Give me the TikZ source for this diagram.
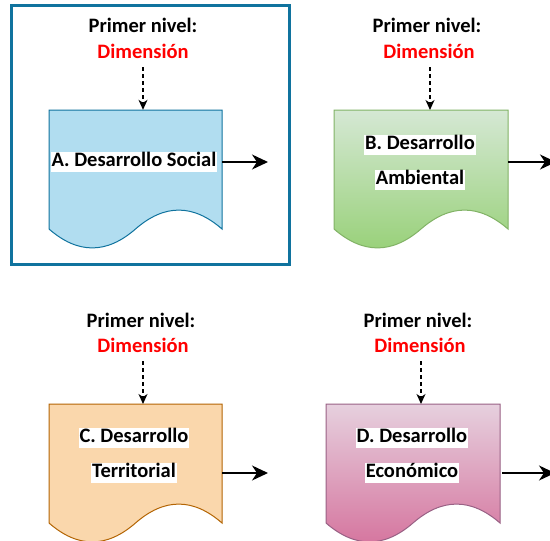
\documentclass[tikz,border=0pt]{standalone}
\usepackage{fontspec}
\setmainfont{Carlito}
\usetikzlibrary{arrows.meta,calc}
\definecolor{frameblue}{HTML}{10739E}
\definecolor{blueFill}{HTML}{B1DDF0}
\definecolor{greenStroke}{HTML}{82B366}
\definecolor{greenTop}{HTML}{D5E8D4}
\definecolor{greenBot}{HTML}{97D077}
\definecolor{orangeFill}{HTML}{FAD7AC}
\definecolor{orangeStroke}{HTML}{B46504}
\definecolor{pinkTop}{HTML}{E6D0DE}
\definecolor{pinkBot}{HTML}{D5739D}
\definecolor{pinkStroke}{HTML}{996185}
\definecolor{dimred}{HTML}{FF0000}
\newcommand{\docshape}[5]{% x0, y0, w, h, style
  \pgfmathsetmacro{\dxa}{#1}\pgfmathsetmacro{\dya}{#2}%
  \pgfmathsetmacro{\dw}{#3}\pgfmathsetmacro{\dh}{#4}%
  \pgfmathsetmacro{\ddy}{0.3*\dh}%
  \pgfmathsetmacro{\dbase}{\dya+\dh-\ddy/2}%
  \pgfmathsetmacro{\dup}{\dbase-0.6*\ddy}%
  \pgfmathsetmacro{\ddown}{\dbase+0.6*\ddy}%
  \pgfmathsetmacro{\xr}{\dxa+\dw}%
  \pgfmathsetmacro{\xa}{\dxa+5*\dw/6}%
  \pgfmathsetmacro{\xb}{\dxa+4*\dw/6}%
  \pgfmathsetmacro{\xm}{\dxa+\dw/2}%
  \pgfmathsetmacro{\xc}{\dxa+2*\dw/6}%
  \pgfmathsetmacro{\xd}{\dxa+\dw/6}%
  \draw[#5] (\dxa,\dya) -- (\xr,\dya) -- (\xr,\dbase)
    .. controls (\xa,\dup) and (\xb,\dup) .. (\xm,\dbase)
    .. controls (\xc,\ddown) and (\xd,\ddown) .. (\dxa,\dbase) -- cycle;
}
\tikzset{
  lvl/.style={font=\bfseries\fontsize{20.5}{24}\selectfont, inner sep=0pt, anchor=center},
  lbl/.style={font=\bfseries\fontsize{20.5}{24}\selectfont, fill=white, inner sep=1pt, text height=14pt, text depth=4.5pt},
  dasharrow/.style={dashed, dash pattern=on 4pt off 3pt, line width=1.2pt, -{Stealth[length=10pt,width=9pt,inset=3pt]}},
  outarrow/.style={line width=1.4pt, -{Stealth[length=16pt,width=15pt,inset=5pt]}},
  anchorbox/.style={inner sep=0pt, minimum width=#1, minimum height=118pt},
}
\begin{document}
\begin{tikzpicture}[x=1pt,y=-1pt]
\clip (0,0) rectangle (550,541);
\fill[white] (0,0) rectangle (550,541);
% frame around A
\draw[frameblue, line width=3pt] (11.5,5.5) rectangle (289,264.5);

% Box A
\docshape{49}{110}{173}{140}{draw=frameblue, fill=blueFill, line width=1pt}
\node[anchorbox=173pt] (A) at (135.5,169) {};
\node[lvl] (A1) at (143,25) {Primer nivel:};
\node[lvl, text=dimred] (A2) at (143,51) {Dimensión};
\node[lbl] (Al) at (134,162) {A. Desarrollo Social};
\coordinate (Aend) at (268,162);
\draw[dasharrow] (A2.south |- 0,67) -- (A2.south |- A.north);
\draw[outarrow] (A.east |- Al) -- (Aend);

% Box B
\docshape{334}{110}{174}{140}{draw=greenStroke, top color=greenTop, bottom color=greenBot, line width=1pt}
\node[anchorbox=174pt] (B) at (421,169) {};
\node[lvl] (B1) at (427,25) {Primer nivel:};
\node[lvl, text=dimred] (B2) at (429,51) {Dimensión};
\node[lbl] (Bl1) at (420,145) {B. Desarrollo};
\node[lbl] (Bl2) at (420,180) {Ambiental};
\coordinate (Bend) at (556,162);
\draw[dasharrow] (430,67) -- (430,110);
\draw[outarrow] (B.east |- 0,162) -- (Bend);

% Box C
\docshape{49}{404}{173}{140}{draw=orangeStroke, fill=orangeFill, line width=1pt}
\node[anchorbox=173pt] (C) at (135.5,463) {};
\node[lvl] (C1) at (141,320) {Primer nivel:};
\node[lvl, text=dimred] (C2) at (143,345) {Dimensión};
\node[lbl] (Cl1) at (134,438) {C. Desarrollo};
\node[lbl] (Cl2) at (134,473) {Territorial};
\coordinate (Cend) at (268,473);
\draw[dasharrow] (143,361) -- (143,404);
\draw[outarrow] (C.east |- Cl2) -- (Cend);

% Box D
\docshape{326}{404}{174}{140}{draw=pinkStroke, top color=pinkTop, bottom color=pinkBot, line width=1pt}
\node[anchorbox=174pt] (D) at (413,463) {};
\node[lvl] (D1) at (418,320) {Primer nivel:};
\node[lvl, text=dimred] (D2) at (420,345) {Dimensión};
\node[lbl] (Dl1) at (412,438) {D. Desarrollo};
\node[lbl] (Dl2) at (412,473) {Económico};
\coordinate (Dstart) at (502,473);
\coordinate (Dend) at (555,473);
\draw[dasharrow] (421,361) -- (421,404);
\draw[outarrow] (Dstart) -- (Dend);
\end{tikzpicture}
\end{document}
